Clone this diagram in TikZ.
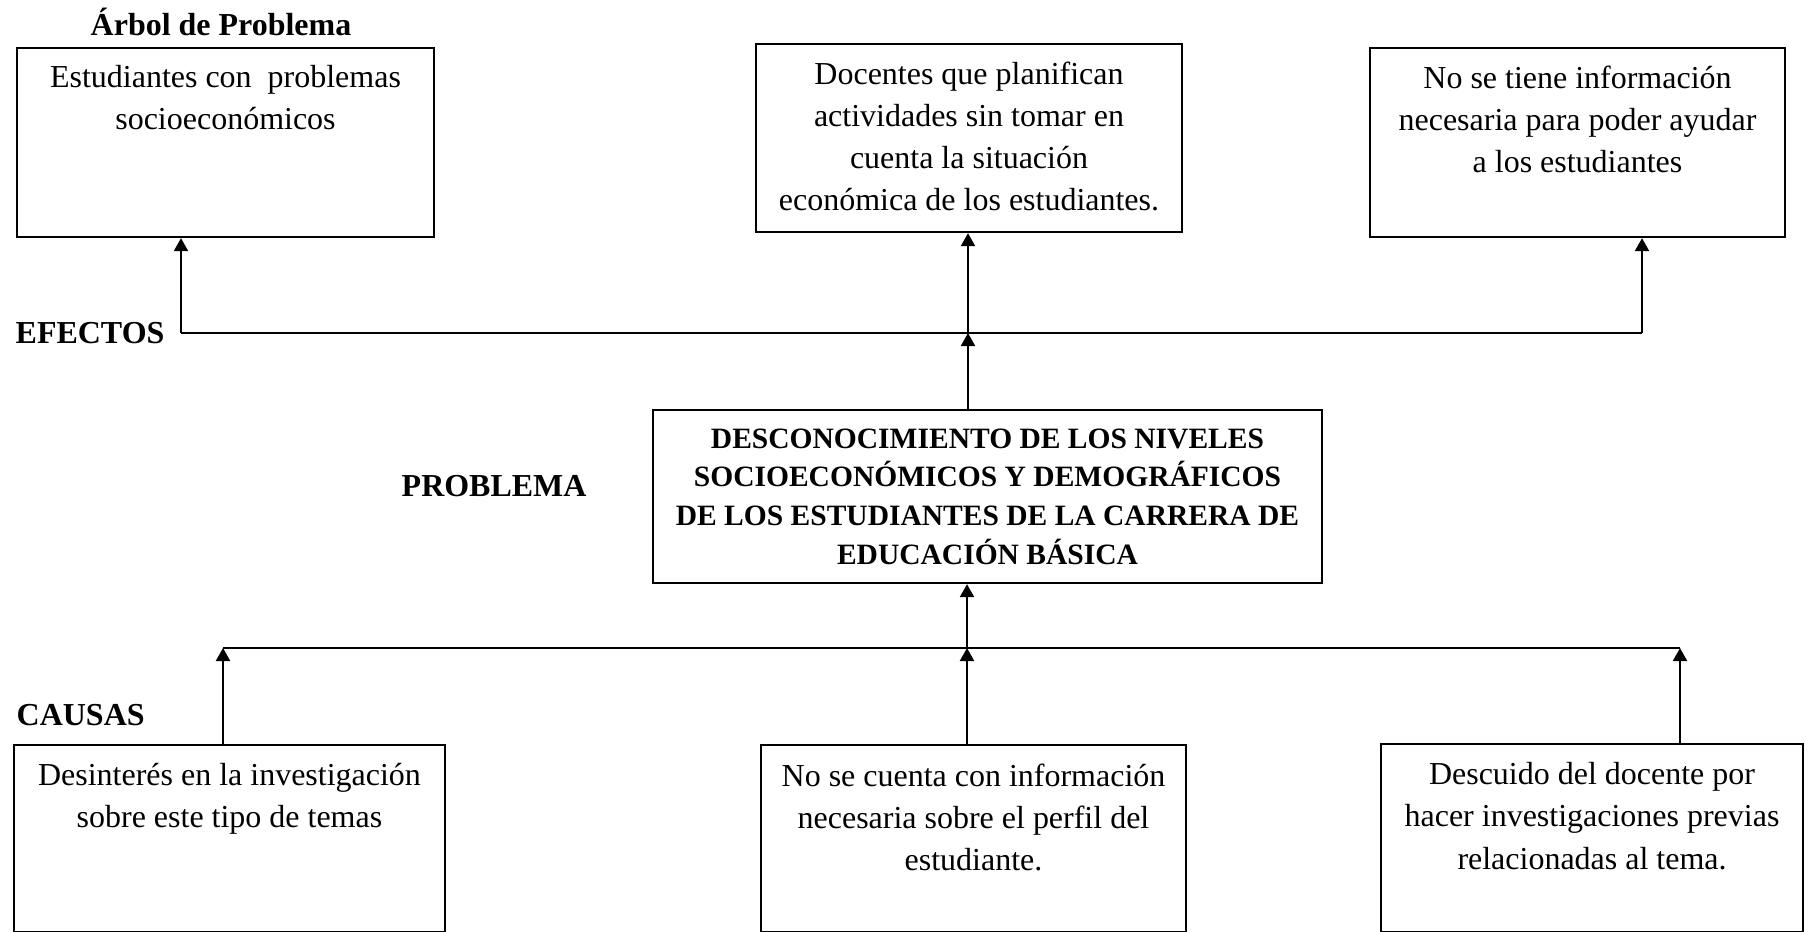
\documentclass[tikz,border=0pt]{standalone}
\usepackage{fontspec}
\setmainfont{Liberation Serif}
\usetikzlibrary{arrows.meta}

\tikzset{
  caja/.style n args={2}{draw, line width=0.65pt, inner sep=0pt, minimum width=#1, minimum height=#2},
  texto/.style={anchor=north, align=center, inner sep=0pt, font=\fontsize{9.1}{12}\selectfont},
  central/.style={anchor=north, align=center, inner sep=0pt, font=\fontsize{8.4}{11}\selectfont\bfseries},
  titulo/.style={anchor=base west, inner sep=0pt, font=\fontsize{9.1}{11}\selectfont\bfseries},
  linea/.style={line width=0.6pt},
  flecha/.style={line width=0.6pt, -{Triangle[length=1.3mm,width=1.4mm]}}
}

\begin{document}
\begin{tikzpicture}[x=0.1mm, y=-0.1mm]

\useasboundingbox (0,0) rectangle (1809,931);

% titulo y etiquetas
\node[titulo, anchor=base] (tit) at (221,35) {Árbol de Problema};
\node[titulo] (efectos) at (15,343) {EFECTOS};
\node[titulo] (problema) at (401,496) {PROBLEMA};
\node[titulo] (causas) at (16,725) {CAUSAS};

% efectos
\node[caja={41.7mm}{18.9mm}] (e1) at (225.5,142.5) {};
\node[caja={42.6mm}{18.8mm}] (e2) at (969,138) {};
\node[caja={41.5mm}{18.9mm}] (e3) at (1577.5,142.5) {};

\node[texto] (te1) at ([yshift=-1.8mm]e1.north) {Estudiantes con~ problemas\\socioeconómicos};
\node[texto] (te2) at ([yshift=-1.8mm]e2.north) {Docentes que planifican\\actividades sin tomar en\\cuenta la situación\\económica de los estudiantes.};
\node[texto] (te3) at ([yshift=-1.8mm]e3.north) {No se tiene información\\necesaria para poder ayudar\\a los estudiantes};

% problema
\node[caja={66.9mm}{17.3mm}] (p) at (987.5,496.5) {};
\node[central] (tp) at ([yshift=-1.9mm]p.north) {DESCONOCIMIENTO DE LOS NIVELES\\SOCIOECONÓMICOS Y DEMOGRÁFICOS\\DE LOS ESTUDIANTES DE LA CARRERA DE\\EDUCACIÓN BÁSICA};

% causas
\node[caja={43.1mm}{18.7mm}] (c1) at (229.5,838.5) {};
\node[caja={42.5mm}{18.7mm}] (c2) at (973.5,838.5) {};
\node[caja={42.2mm}{18.8mm}] (c3) at (1592,838) {};

\node[texto] (tc1) at ([yshift=-1.9mm]c1.north) {Desinterés en la investigación\\sobre este tipo de temas};
\node[texto] (tc2) at ([yshift=-1.9mm]c2.north) {No se cuenta con información\\necesaria sobre el perfil del\\estudiante.};
\node[texto] (tc3) at ([yshift=-1.9mm]c3.north) {Descuido del docente por\\hacer investigaciones previas\\relacionadas al tema.};

% conectores de arriba
\coordinate (ef1) at (181,333);
\coordinate (ef2) at (968,333);
\coordinate (ef3) at (1642,333);
\draw[linea] (ef1) -- (ef3);
\draw[flecha] (ef1) -- (ef1 |- e1.south);
\draw[flecha] (ef2) -- (ef2 |- e2.south);
\draw[flecha] (ef3) -- (ef3 |- e3.south);
\draw[flecha] (ef2 |- p.north) -- (ef2);

% conectores de abajo
\coordinate (ca1) at (223,648);
\coordinate (ca2) at (967,648);
\coordinate (ca3) at (1680,648);
\draw[linea] (ca1) -- (ca3);
\draw[flecha] (ca2) -- (ca2 |- p.south);
\draw[flecha] (ca1 |- c1.north) -- (ca1);
\draw[flecha] (ca2 |- c2.north) -- (ca2);
\draw[flecha] (ca3 |- c3.north) -- (ca3);

\end{tikzpicture}
\end{document}
